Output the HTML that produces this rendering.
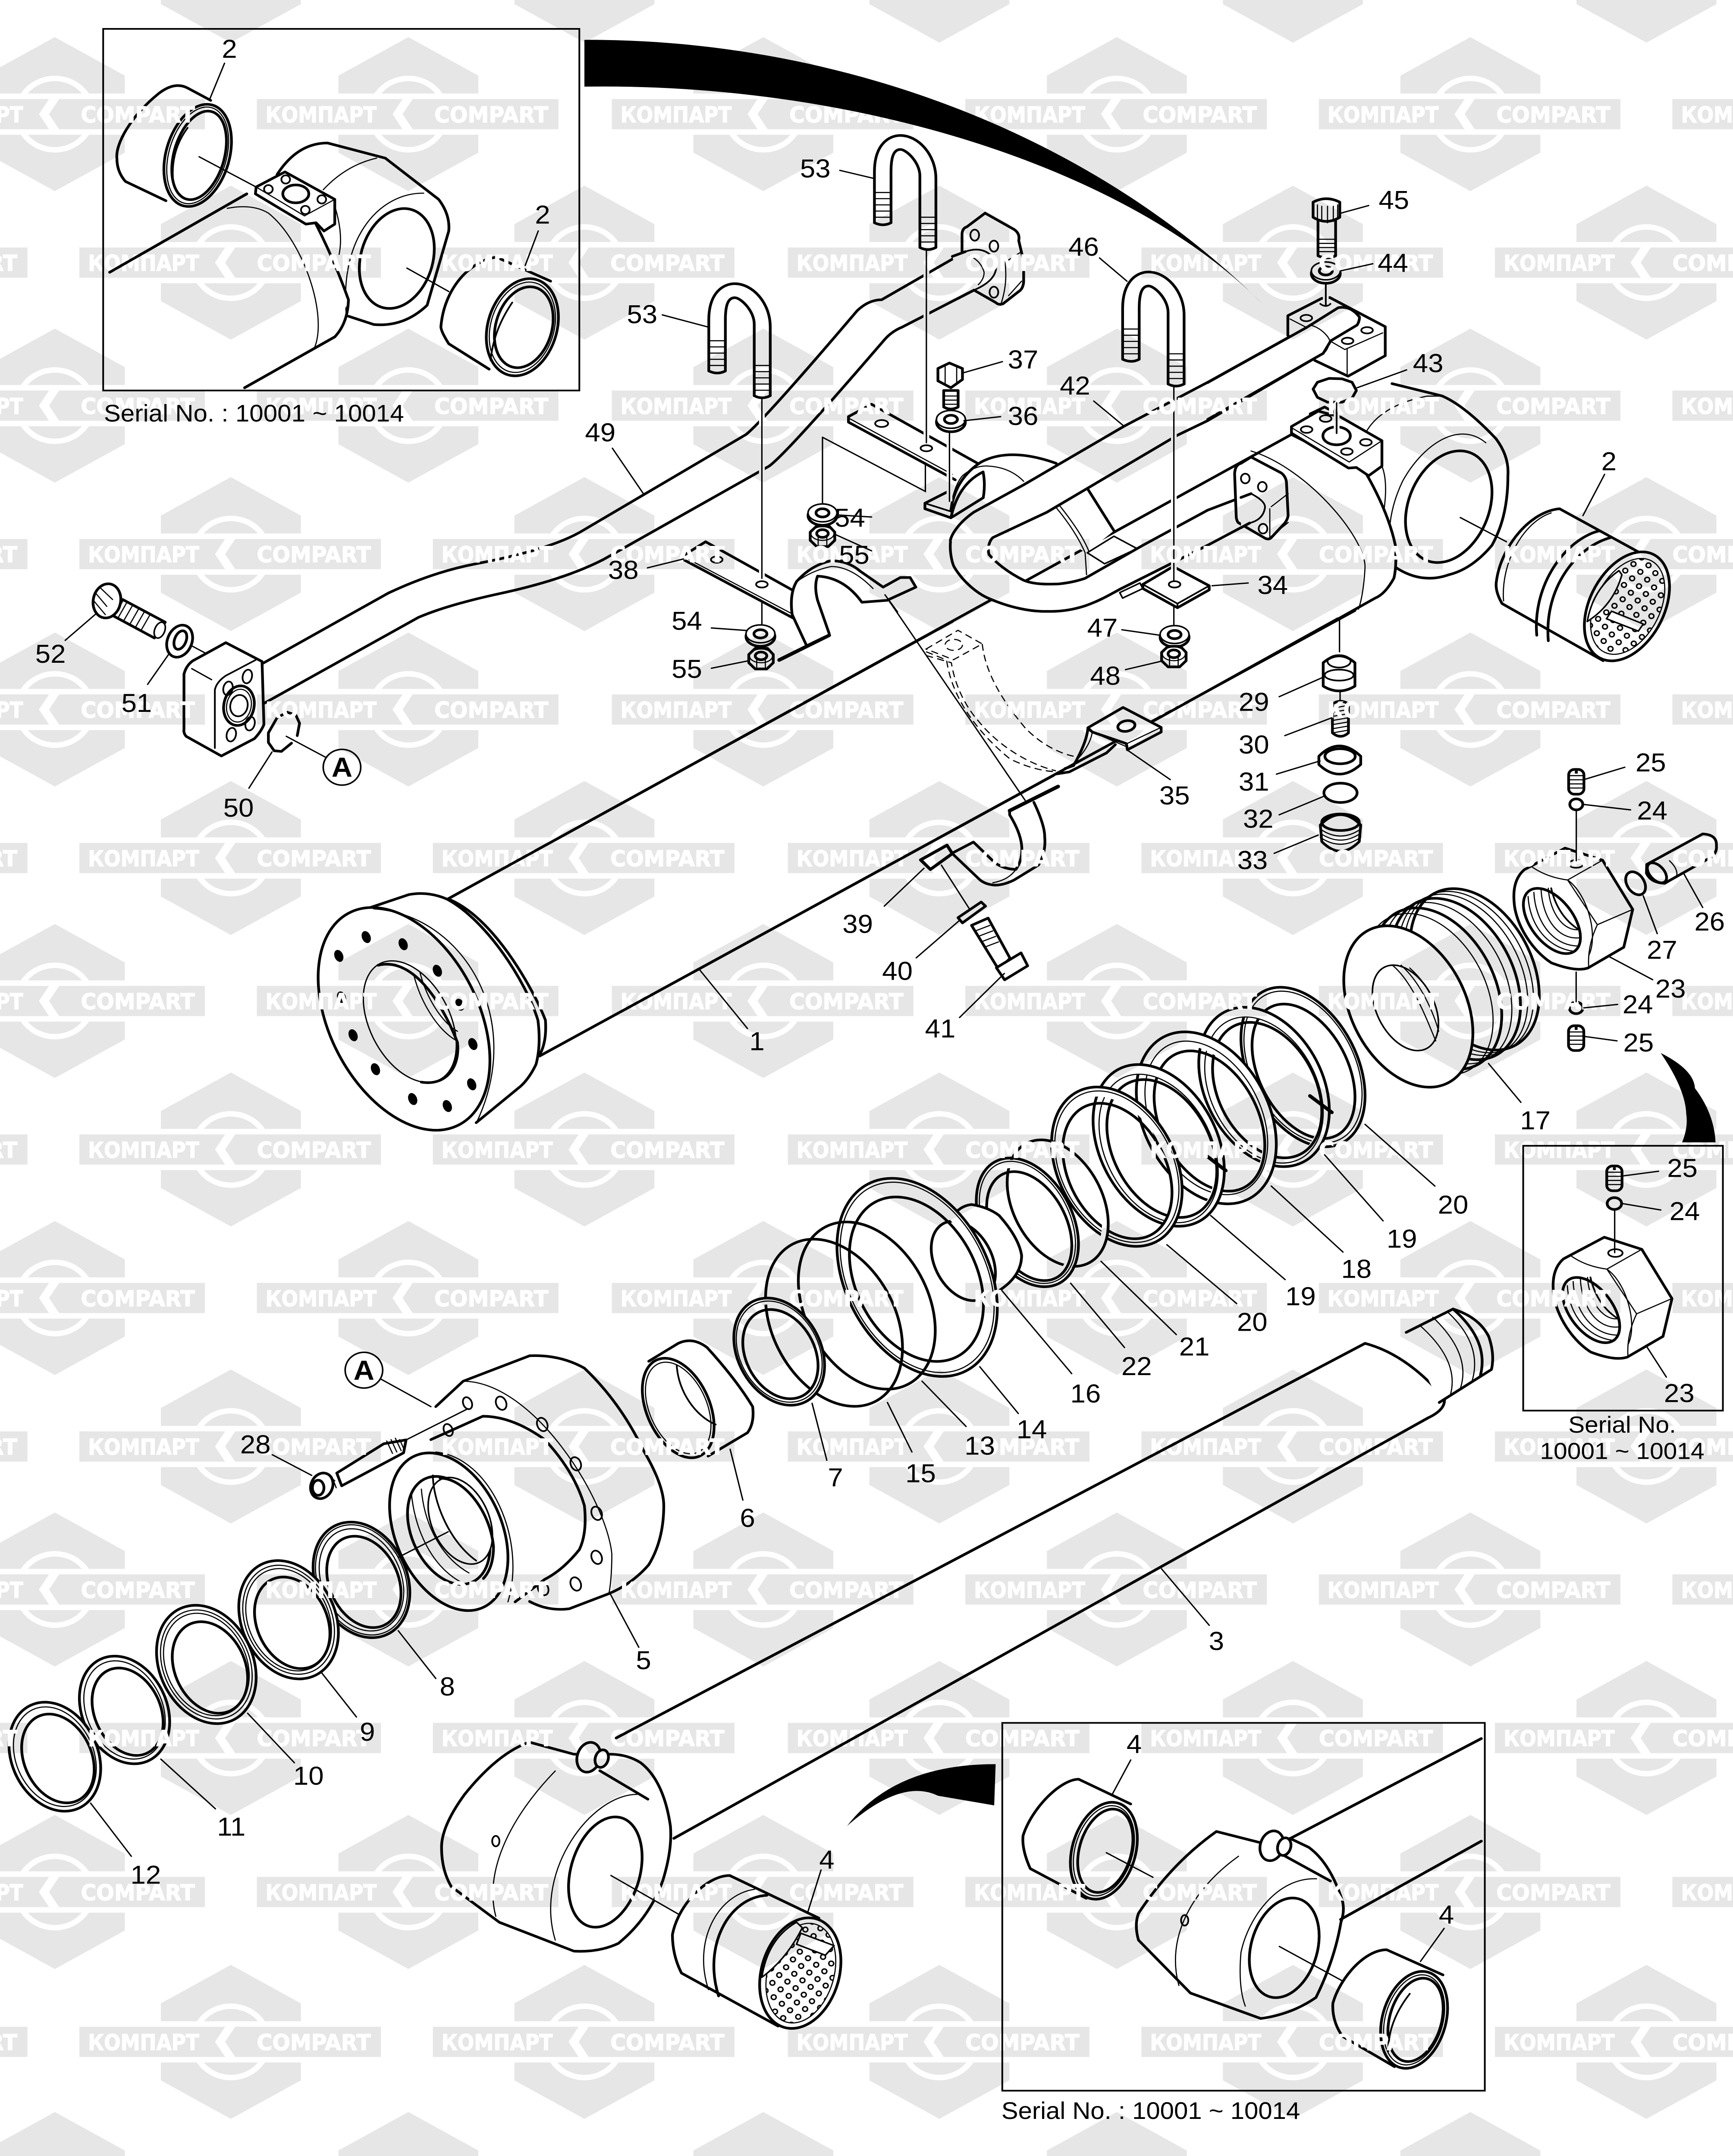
<!DOCTYPE html>
<html><head><meta charset="utf-8"><title>Cylinder parts diagram</title>
<style>
html,body{margin:0;padding:0;background:#fff;width:100%;height:100%;overflow:hidden}
svg{display:block;width:100vw;height:100vh}
.k{fill:#fff;stroke:#000;stroke-width:1.9;stroke-linejoin:round;stroke-linecap:round}
.K{fill:none;stroke:#000;stroke-width:1.9;stroke-linejoin:round;stroke-linecap:round}
.f{fill:#fff;stroke:none}
.m{fill:#fff;stroke:#000;stroke-width:1.1;stroke-linejoin:round}
.M{fill:none;stroke:#000;stroke-width:1.2;stroke-linecap:round}
.n{fill:none;stroke:#000;stroke-width:.8;stroke-linecap:round}
.l{fill:none;stroke:#000;stroke-width:.95;stroke-linecap:round}
.h{fill:none;stroke:#fff;stroke-width:4}
.b{fill:#000;stroke:none}
.d{fill:none;stroke:#000;stroke-width:.8;stroke-dasharray:5 3}
.a{fill:none;stroke:#fff}
.g{fill:#000;fill-opacity:.098;fill-rule:evenodd}
text{font-family:"Liberation Sans",sans-serif;font-size:19px;fill:#000;text-anchor:middle}
.s{font-size:17.4px;text-anchor:start}
.c{font-size:17px}
.wt{font-family:"DejaVu Sans",sans-serif;font-weight:bold;font-size:16px;fill:#fff;stroke:#fff;stroke-width:.5;text-anchor:start}
</style></head><body>
<svg xmlns="http://www.w3.org/2000/svg" viewBox="0 0 1201 1568" preserveAspectRatio="none">
<defs>
<g id="w">
<path class="g" d="M0,-56L48.5,-28V-15H-48.5V-28ZM-23.6,-15A28,28 0 0 1 23.6,-15L18.7,-15A24,24 0 0 0 -18.7,-15Z"/>
<path class="g" d="M0,56L48.5,28V15H-48.5V28ZM-23.6,15A28,28 0 0 0 23.6,15L18.7,15A24,24 0 0 1 -18.7,15Z"/>
<path class="g" d="M-105,-11H-4L-11,0L-4,11H-105ZM3,-11H104V11H3L-4,0Z"/>
<text class="wt" x="-99" y="6" textLength="77" lengthAdjust="spacingAndGlyphs">КОМПАРТ</text>
<text class="wt" x="18" y="6" textLength="79" lengthAdjust="spacingAndGlyphs">COMPART</text>
</g>
<g id="row1"><use href="#w" x="38"/><use href="#w" x="283"/><use href="#w" x="529"/><use href="#w" x="774"/><use href="#w" x="1019"/><use href="#w" x="1264"/></g>
<g id="row2"><use href="#w" x="-85"/><use href="#w" x="160"/><use href="#w" x="405"/><use href="#w" x="651"/><use href="#w" x="896"/><use href="#w" x="1141"/></g>
<pattern id="dots" width="7.4" height="7.4" patternUnits="userSpaceOnUse" patternTransform="rotate(25)">
<rect width="7.4" height="7.4" fill="#fff"/><circle cx="3.7" cy="3.7" r="1.7" fill="#fff" stroke="#000" stroke-width="1"/></pattern>
<g id="ub">
<path class="k" d="M606,162V125C606,105 616,98.5 624,98.5C636,98.5 648.6,112 648.6,130V180Q643,183 637.5,180V128C637.5,118 628,108.7 624,108.7C619,108.7 617.5,115 617.5,125V162Q612,165 606,162Z"/>
<path class="n" d="M606,140H617.5M606,144.5H617.5M606,149H617.5M606,153.5H617.5M606,158H617.5M637.5,158H648.6M637.5,162.5H648.6M637.5,167H648.6M637.5,171.5H648.6M637.5,176H648.6"/>
</g>
<g id="wa"><ellipse class="k" cx="0" cy="2" rx="10" ry="7"/><ellipse class="m" cx="0" cy="0" rx="10" ry="6.5"/><ellipse class="K" cx="0" cy="0" rx="4.5" ry="3"/></g>
<g id="nu"><path class="k" d="M-8.5,-3L-4,-7.5H4.5L8.5,-3V3L4,7.5H-4L-8.5,3Z"/><ellipse class="n" cx="0" cy="-2" rx="8" ry="5"/><ellipse class="K" cx="0" cy="-2" rx="4" ry="2.8"/><path class="n" d="M-3,7V1M3,7V1"/></g>
<g id="nut">
<path class="k" d="M1056.4,632.5L1084.6,616.8L1110.6,625.6L1131.5,661.4L1125.3,688.9L1100.5,704Q1092,707 1075.2,700.3C1060,690 1050,670 1049.3,656Q1048,640 1056.4,632.5Z"/>
<path class="n" d="M1061.7,630.5Q1072,638 1086.4,640L1110.6,625.6M1086.4,640L1107,672.5L1131.5,661.4M1107,672.5Q1100,688 1101,703.5M1086.4,640C1100,650 1108,680 1101,695"/>
<ellipse class="K" cx="1075.5" cy="669.8" rx="15" ry="27" transform="rotate(-35 1075.5 669.8)"/>
<path class="n" d="M1059,652C1060,672 1072,690 1092,692M1063,649C1064,670 1076,688 1094,688M1068,647C1069,668 1080,684 1095,682M1073,646C1074,664 1084,678 1095,676"/>
<path class="M" d="M1075,646C1078,660 1085,670 1094,676"/>
<ellipse cx="1092.3" cy="628.3" rx="5" ry="2.8" class="M"/>
</g>
<g id="ss"><rect x="-5.3" y="-9" width="10.6" height="18" rx="4" class="k"/><path class="n" d="M-5,-4.5H5M-5,-1.5H5M-5,1.5H5M-5,4.5H5"/><rect x="-1" y="-8" width="2" height="2" class="b"/></g>
</defs>

<rect width="1201" height="1568" fill="#fff"/>

<!-- barrel 1 -->
<polygon class="f" points="310,654 895,316 960,400 939,444 374,768"/>
<path class="K" d="M310,654L895,316M374,768L939,444"/>
<!-- front flange -->
<path class="k" d="M312.7,654.7C345,670 372,725 378,742Q379,758 374,767"/>
<path class="k" d="M251,662L283.4,650.6Q297,648 310,654C338,670 365,715 372.8,742Q375,760 371.5,774Q367,784 360.8,790L330,816.5"/>
<ellipse class="k" cx="280" cy="741" rx="52" ry="86" transform="rotate(-25 280 741)"/>
<path class="n" d="M259,661C320,665 365,740 330,817"/>
<ellipse class="m" cx="284" cy="743" rx="28" ry="47" transform="rotate(-25 284 743)" style="stroke-width:.9"/>
<path class="K" d="M262,702C285,696 305,726 317,758C319,775 310,790 292,787"/>
<path class="n" d="M287,710C292,730 304,750 316.7,757M291,707C296,728 308,745 317,750"/>
<g class="b">
<ellipse cx="253.8" cy="681.5" rx="3" ry="4.5" transform="rotate(-20 253.8 681.5)"/><ellipse cx="279.4" cy="686.7" rx="3" ry="4.5" transform="rotate(-20 279.4 686.7)"/><ellipse cx="234.8" cy="695.2" rx="3" ry="4.5" transform="rotate(-20 234.8 695.2)"/><ellipse cx="303.1" cy="706" rx="3" ry="4.5" transform="rotate(-20 303.1 706)"/><ellipse cx="236.7" cy="725.4" rx="3" ry="4.5" transform="rotate(-20 236.7 725.4)"/><ellipse cx="318.6" cy="730.7" rx="3" ry="4.5" transform="rotate(-20 318.6 730.7)"/><ellipse cx="244.7" cy="752.9" rx="3" ry="4.5" transform="rotate(-20 244.7 752.9)"/><ellipse cx="327.7" cy="759.3" rx="3" ry="4.5" transform="rotate(-20 327.7 759.3)"/><ellipse cx="260.2" cy="777.6" rx="3" ry="4.5" transform="rotate(-20 260.2 777.6)"/><ellipse cx="326.9" cy="788.6" rx="3" ry="4.5" transform="rotate(-20 326.9 788.6)"/><ellipse cx="286" cy="799.3" rx="3" ry="4.5" transform="rotate(-20 286 799.3)"/><ellipse cx="310" cy="804.4" rx="3" ry="4.5" transform="rotate(-20 310 804.4)"/>
</g>

<!-- rear eye -->
<path class="k" d="M964.7,279L999.5,288Q1015,295 1036.7,319Q1046,332 1045,346C1045,370 1040,385 1034,396.5Q1020,414 1004,418Q985,425 967,412.5"/>
<path class="n" d="M947.4,313C955,300 970,292 989,288.1L999.5,288M1029.7,322C1010,305 985,325 972,350C962,372 960,395 967,415"/>
<ellipse class="K" cx="1004" cy="368.5" rx="28" ry="42" transform="rotate(20 1004 368.5)"/>
<!-- barrel end -->
<path class="k" d="M895,316L946,343Q962,372 967,396.5Q968,412 966,420.5Q960,432 953,435L927.5,450"/>
<path class="n" d="M867,328C905,340 946,390 946,412.5Q945,432 941.5,443"/>
<path class="k" d="M895,310.2L913.6,299L929,303.3L957.7,320.5V339L948.5,346L940,340L934.5,340.4L895,315Z"/>
<path class="K" d="M908,301L918,296L925,300"/>
<path class="n" d="M895,311L935,336L957,321M957.7,339Q962,350 959,372"/>
<ellipse class="K" cx="926.3" cy="317" rx="9.5" ry="6.5"/>
<g class="M"><ellipse cx="905.5" cy="312.4" rx="4" ry="2.4"/><ellipse cx="918.7" cy="304.4" rx="4" ry="2.4"/><ellipse cx="946.6" cy="321.7" rx="4" ry="2.4"/><ellipse cx="933.4" cy="328.4" rx="4" ry="2.4"/></g>
<path class="h" d="M926.3,293V315"/><path class="M" d="M926.3,293V315"/>

<!-- bushing 2 -->
<path class="k" d="M1080.8,370L1150.4,410L1111,480.5L1041,439Q1036,430 1037,423C1040,398 1060,372 1080.8,370Z"/>
<path class="K" d="M1108.6,386C1085,392 1062,425 1065,462M1116,391C1092,398 1070,428 1073,466"/>
<path class="n" d="M1075,373C1055,380 1040,410 1042,437"/>
<ellipse class="k" cx="1127.5" cy="441" rx="26" ry="42" transform="rotate(25 1127.5 441)"/>
<ellipse cx="1128" cy="441" rx="22.5" ry="37" transform="rotate(25 1128 441)" fill="url(#dots)" stroke="#000" stroke-width=".8"/>
<path d="M1122,415Q1104,428 1100,452Q1118,440 1124,418Z" class="m"/>
<polygon class="m" points="1116.8,444.5 1138.8,453.8 1135.4,459 1113.3,450"/>

<!-- tube 49 -->
<polygon class="f" points="182,482 269,431 330,410 402,387 517,316 594,226 611,218 669,183 675,211 625,238 613,247 533,339 418,407 345,432 290,449 183,511"/>
<path class="K" d="M182.4,482.3L269,431.4Q300,416 330,410Q380,400 402,387L517,316Q530,305 594,226Q602,218 611,218L669,183M675,211L625,238Q618,241 613,247Q545,330 533,339L418,407Q390,422 345,432Q310,440 290,449L183.2,511.4"/>
<!-- flange top -->
<path class="k" d="M666.7,183V170Q667,166 670,165L682.7,155L703,167Q707,170 706,175L709.4,190V205Q709,210 706,212L695,221Q692,222 690,220L675,211"/>
<path class="n" d="M696,191L708,183M699,215L708,204.5M696,188Q699,205 693.4,222"/>
<path class="f" d="M660,186L669,183Q683,178 690,190Q693,203 675,211L665,214Z"/>
<path class="K" d="M660,186.5L669,183M675,211L664,217"/>
<path class="M" d="M669,183Q683,178 690,190Q693,203 675,211"/>
<path class="n" d="M672,186Q680,190 682,198Q682,203 678,207"/>
<g class="M"><ellipse cx="675.5" cy="171" rx="3" ry="4"/><ellipse cx="688.8" cy="179" rx="3" ry="4"/><ellipse cx="688.8" cy="212.5" rx="3" ry="4"/></g>
<!-- flange left -->
<path class="k" d="M127.5,490.3Q129,484 133.6,480.6L156.5,467.4L181.6,481.1L182.9,526.9Q181,532 176.3,537.2L153.4,549.8L129,535.5Q127,533 127.5,530.3Z"/>
<path class="M" d="M148.9,544V501.7Q150,496 156.5,491.4L177.1,480"/>
<path class="l" d="M132.9,486.3L146.6,494.3M132.9,469.7L142,474.8"/>
<ellipse class="K" cx="165.6" cy="513.2" rx="10.5" ry="14.5" transform="rotate(10 165.6 513.2)"/>
<ellipse class="n" cx="165.6" cy="513.2" rx="8.5" ry="12" transform="rotate(10 165.6 513.2)"/>
<ellipse class="M" cx="165.6" cy="513.2" rx="6" ry="7.8" transform="rotate(10 165.6 513.2)"/>
<g class="M"><ellipse cx="171.4" cy="492" rx="3.2" ry="5" transform="rotate(12 171.4 492)"/><ellipse cx="158" cy="500.6" rx="3.2" ry="5" transform="rotate(12 158 500.6)"/><ellipse cx="173.3" cy="526.3" rx="3.2" ry="5" transform="rotate(12 173.3 526.3)"/><ellipse cx="160.3" cy="534.3" rx="3.2" ry="5" transform="rotate(12 160.3 534.3)"/></g>
<!-- bolt 52 -->
<path class="k" d="M85,436L114.5,452.5L107,464L78.7,448Z"/>
<ellipse class="m" cx="110.7" cy="458.3" rx="3.5" ry="6" transform="rotate(20 110.7 458.3)"/>
<path class="n" d="M88,438L82,449M92,440L86,451M96,443L90,454M100,445L94,456M104,447L98,458"/>
<ellipse class="k" cx="74.1" cy="437" rx="9.5" ry="12.5" transform="rotate(10 74.1 437)"/>
<path class="n" d="M66,431L74,441M65,437L73,447M70,428L78,436"/>
<ellipse class="k" cx="124.5" cy="466.3" rx="8.5" ry="12" transform="rotate(20 124.5 466.3)"/>
<ellipse class="K" cx="125" cy="465.5" rx="4" ry="7" transform="rotate(20 125 465.5)"/>
<path class="K" d="M206,535L207.6,526L205,520L199,518L192,522L186,533L186,540L190,546L195,546.5L202,540.5"/>
<circle class="m" cx="237" cy="558" r="13"/>

<!-- clamp dashed -->
<path class="d" d="M641.8,472L663.9,458.4L680.7,468.3L660.8,479.8ZM680.7,468.3C683,490 695,510 710.4,529.3C722,542 735,548 744,550M641.8,476.7L659.3,482C662,500 670,515 678.4,524.8C690,540 710,555 731.8,560.6M641.8,474L656,480C660,510 680,535 700,552C712,558 722,561 735,561.5"/>
<ellipse class="d" cx="661" cy="469" rx="6" ry="4"/>
<path class="K" d="M753.9,530Q753,540 744,556.8L738,559"/>
<path class="k" d="M753.9,529.3L778.3,514.5L804.7,529V532.4L781.3,545.3L780.6,540.8L757,532.4Z"/>
<path class="n" d="M753.9,531L780.6,543M780.6,541L804.7,529"/>
<ellipse class="K" cx="780.6" cy="528" rx="6" ry="3.8" transform="rotate(-12 780.6 528)"/>
<path class="K" d="M773,541.5L766.8,547.6L741,561.4L731.8,562.9"/>
<path class="n" d="M757,532.4Q755,545 741,558"/>
<!-- clamp 39 -->
<path class="K" d="M699.7,589.6L733.3,572" style="stroke-width:2.6"/>
<path class="K" d="M716.5,583.5Q724,600 724,608.6Q725,620 719.6,629.2L702.8,640Q695,644 689,643.7Q682,643 678.4,639.2L660,620.8"/>
<path class="K" d="M699.7,589.6V592.6Q707,605 708,614.7Q709,625 704,632.3Q695,632 689,627L674.6,612.4L659.3,620.8"/>
<path class="n" d="M704,632.3Q699,640 688,642"/>
<polygon class="k" points="638,625.4 656.3,614.7 660,620.8 644.8,632.3" style="stroke-width:2.2"/>
<polygon class="k" points="663.9,667.4 680,656 683,659 667,671.2"/>
<!-- bolt 41 -->
<path class="k" d="M673.3,673L684.8,667.7L700,697L692,705Z"/>
<path class="n" d="M676,677L686,673M678,681L688,677M680,685L690,681M682,689L692,685"/>
<path class="k" d="M690.5,703.8L707.6,693L712.2,702.4L696.2,712.6Z"/>
<path class="l" d="M613.3,432.6L710.4,582"/>

<!-- upper clamp and plate -->
<path class="k" d="M681,339L604,294L588,303V307L662,349"/>
<path class="n" d="M588,304L660,345"/>
<ellipse class="M" cx="611" cy="308" rx="4.5" ry="2.5"/>
<ellipse class="M" cx="642" cy="326" rx="4" ry="2.2"/>
<path class="l" d="M570,318V367M570,318L641.3,357.4V336.6"/>
<path class="f" d="M659,376Q662,348 680,336Q700,325 732,337L752,352.6L772,386L753,402L688,365L659,376Z"/>
<path class="K" d="M659,371Q662,348 680,336Q700,325 732,337"/>
<path class="K" d="M659,376.6Q664,352 681.3,343.2Q683,352 681.4,362L659,376.6L641,370V366L656,358"/>
<path class="M" d="M641,366L659,372"/>
<path class="n" d="M659,367Q662,352 667,346Q676,338 685.4,339Q700,340 709.4,350M729.4,366Q745,385 752,402L753,418M733,366Q750,388 755,402"/>
<path class="K" d="M752,352.6L772,386"/>
<polygon class="m" points="753.5,402 772,390 788,399 765.5,410"/>

<!-- U tube 42 -->
<path class="k" d="M905.6,238L837,278L779,310L709.4,352.6L674.7,372.6C662,382 658,392 658.7,394C658,402 660,410 661.4,412.6C668,424 678,432 685.4,435.3C700,442 715,445 725.4,444.6C736,445 745,443 752,440.6C762,437 770,432 776,428.6L837,396.5L866,380.4L867,359L837,371L792,396.6L752,420.6C745,423 740,424 733.4,424.7C725,425 716,425 709.4,422C698,416 690,409 685.4,403.3C684,398 686,393 688,391L725.4,372.6L816,316.5L837,305.9L917,257Z"/>
<!-- flange 34 side -->
<path class="k" d="M855.6,344.4Q856,338 860,337L867,332.4L888,344Q891.6,347 891.6,352L892.7,375Q892,379 889,382L881,391Q879,393 876,391L858,380Q856.7,378 856.7,375Z"/>
<path class="n" d="M881,368.5L892.7,359M881,390L892.7,380M880,370V392"/>
<path class="f" d="M860,362L867,359Q878,365 876.5,370Q875,378 866,380.4L860,384Z"/>
<path class="K" d="M860,361.8L867,359M866,380.4L860,383.8"/>
<path class="M" d="M867,359Q878,365 876.5,370Q875,378 866,380.4"/>
<g class="M"><ellipse cx="863" cy="348" rx="3" ry="3.5"/><ellipse cx="874.8" cy="354" rx="3" ry="3.5"/><ellipse cx="875.3" cy="384.5" rx="3" ry="3.5"/></g>

<!-- block 42 end -->
<path class="k" d="M892.5,229.6L916,217L921.6,216.4L960,237.6V258.7L934.2,273.6L911.3,262.2L892.5,243.9Z"/>
<path class="n" d="M894,232L907,239M921.6,247.9L932,254.2L958.2,242.1M933.6,254.2V272.4"/>
<path class="k" d="M837,278.2L905.6,238.1L927.4,223.8Q936,222 942.2,230.7Q942,234 940.5,236.4L922.2,247.9L921,250L917,257L837,305"/>
<path class="n" d="M907.9,236.4C916,238 924,248 921,250Q920,255 917,257"/>
<g class="M"><ellipse cx="905.3" cy="231.3" rx="4" ry="2.3"/><ellipse cx="947.4" cy="240.2" rx="4" ry="2.3"/><ellipse cx="933.9" cy="247.9" rx="4" ry="2.3"/></g>
<path class="M" d="M915,221Q919,224 922,221"/>
<path class="h" d="M918.8,204.4V221.6"/><path class="M" d="M918.8,204.4V221.6"/>

<!-- plate lower 38 -->
<path class="k" d="M550.6,430L489,394L473.7,404V407L550.6,450"/>
<path class="n" d="M474,405L550,447"/>
<ellipse class="M" cx="496.7" cy="407" rx="4" ry="2.3"/>
<ellipse class="M" cx="528" cy="425" rx="4" ry="2.3"/>
<path class="K" d="M540,480L574.6,462" style="stroke-width:2.6"/>
<path class="k" d="M558.6,468.7L549,447Q547,432 552,423Q562,411 576,407.8Q588,408 596,415.3L612,427L624,420L630.7,420L634.7,427L614.7,436.6L597.3,438Q585,420 566.6,419Q564,426 566.6,436.6L574.6,460.7"/>
<path class="n" d="M551,424Q562,415 576,412Q590,412 605,428"/>
<path class="l" d="M613.3,432.6L622,445"/>

<!-- plate 34 -->
<polygon class="m" points="776,431 790,424 792,428 778,435"/>
<path class="k" d="M792,425L813,412L838,426V429L816,442L792,428Z"/>
<path class="M" d="M792,425L816,439L838,426M816,439V442"/>
<ellipse class="M" cx="814" cy="425" rx="4" ry="2.3"/>

<!-- long vertical leaders with halos -->
<path class="h" d="M642,182V322M528,290V420.6M813.5,280.5V422M658,310V364.6"/>
<path class="l" d="M642,182V322M528,290V420.6M528,438V455M813.5,280.5V422M813.5,440.7V456.7M658,310V364.6"/>

<use href="#ub"/>
<use href="#ub" x="-114.8" y="107.8"/>
<use href="#ub" x="172" y="99.3"/>

<!-- bolts 37, 45 -->
<path class="k" d="M654,284V296Q659,299 664,296V284Z"/>
<path class="n" d="M654,288H664M654,291H664M654,294H664"/>
<path class="k" d="M650,268L658,264L667,268V276L659,282L650,277Z"/>
<path class="n" d="M655,265V279M663,266V279"/>
<use href="#wa" x="659" y="305"/>
<path class="k" d="M913.4,160V186Q919.5,189 925.6,186V160Z"/>
<path class="n" d="M913.4,174H925.6M913.4,177H925.6M913.4,180H925.6M913.4,183H925.6"/>
<path class="k" d="M910,147Q919,142 928.5,147V158Q919,164 910,158Z"/>
<path class="n" d="M913,149V160M916,150V161M920,150V162M924,150V161M927,149V159"/>
<use href="#wa" x="918.8" y="197"/>
<polygon class="K" points="910,283 913,278 921,275.2 930,275.5 937,278 940,284 937,289.5 930,292.5 920,292.5 913,289"/>
<use href="#wa" x="570" y="373"/><use href="#nu" x="570" y="390"/>
<use href="#wa" x="527" y="461"/><use href="#nu" x="527.4" y="479"/>
<use href="#wa" x="814" y="461.5"/><use href="#nu" x="813.5" y="477.5"/>

<!-- parts 29-33 -->
<path class="k" d="M917,482Q928,472 939,482V499Q928,506 917,499Z"/>
<ellipse class="M" cx="928" cy="481" rx="8" ry="4.5"/>
<ellipse class="M" cx="928" cy="491" rx="10" ry="4"/>
<path class="k" d="M923.4,512Q929,508 934.5,512V533Q929,538 923.4,533Z"/>
<path class="n" d="M923.5,515L934.5,513M923.5,518L934.5,516M923.5,521L934.5,519M923.5,524L934.5,522M923.5,527L934.5,525M923.5,530L934.5,528M923.5,533L934.5,531"/>
<path class="k" d="M914,550Q928,535 943,550V556Q928,570 914,556Z"/>
<ellipse class="K" cx="928.7" cy="550" rx="10.5" ry="5.5"/>
<ellipse class="K" cx="929" cy="576.6" rx="11.5" ry="7"/>
<path class="k" d="M915,600Q929,585 943,600L942,612Q929,626 916,612Z"/>
<path class="n" d="M915,603Q929,613 943,603M915,606Q929,616 943,606M915,609Q929,619 943,609"/>
<ellipse class="K" cx="929" cy="598" rx="13" ry="6"/>

<!-- parts 24-27, nut -->
<use href="#ss" x="1092.4" y="568.6"/>
<ellipse class="K" cx="1092.4" cy="585" rx="4.5" ry="4"/>
<use href="#nut"/>
<ellipse class="K" cx="1092.3" cy="733" rx="4.7" ry="4.2"/>
<use href="#ss" x="1092.3" y="755"/>
<ellipse class="K" cx="1133.5" cy="642.4" rx="6" ry="9" transform="rotate(-30 1133.5 642.4)"/>
<path class="k" d="M1141.2,628.7L1180,606.5Q1190,607 1189.5,615Q1190,620 1186,623.3L1153.6,642.4Q1144,642 1141,635Z"/>
<ellipse class="K" cx="1148.3" cy="634.8" rx="5" ry="8.5" transform="rotate(-40 1148.3 634.8)"/>
<path class="n" d="M1157,626Q1163,632 1162,637"/>

<!-- piston 17 -->
<ellipse class="k" cx="1022" cy="705" rx="40" ry="62" transform="rotate(-25 1022 705)"/>
<ellipse class="n" cx="1018" cy="707" rx="40" ry="62" transform="rotate(-25 1018 707)"/>
<ellipse class="n" cx="1014" cy="709" rx="40" ry="62" transform="rotate(-25 1014 709)"/>
<ellipse class="K" cx="1009" cy="712" rx="40" ry="62" transform="rotate(-25 1009 712)"/>
<ellipse class="n" cx="1003" cy="715" rx="40" ry="62" transform="rotate(-25 1003 715)"/>
<ellipse class="K" cx="996" cy="719" rx="40" ry="62" transform="rotate(-25 996 719)"/>
<ellipse class="n" cx="990" cy="723" rx="40" ry="62" transform="rotate(-25 990 723)"/>
<ellipse class="k" cx="976" cy="732" rx="40" ry="62" transform="rotate(-25 976 732)"/>
<ellipse class="m" cx="974" cy="733" rx="20" ry="33" transform="rotate(-25 974 733)"/>
<path class="n" d="M965,702C980,715 990,745 995,757M971,702C985,715 994,738 997,750M977,704C990,716 996,732 997,742"/>

<!-- rings 20..7 -->
<g transform="translate(903 776) rotate(-25)"><ellipse class="a" rx="34" ry="56" stroke-width="6"/><ellipse class="K" rx="37.8" ry="61.5"/><ellipse class="n" rx="36" ry="58.5"/><ellipse class="K" cx="-1" cy="3" rx="31" ry="52"/></g>
<g transform="translate(876 790.5) rotate(-25)"><ellipse class="a" rx="37" ry="57" stroke-width="6"/><ellipse class="K" rx="41" ry="61"/><ellipse class="n" cx="-1" cy="2" rx="37" ry="56"/><ellipse class="K" cx="1" cy="3" rx="34" ry="52"/></g>
<path d="M907.8,797L923,809" class="K" style="stroke-width:2.5"/>
<g transform="translate(836 813) rotate(-25)"><ellipse class="a" rx="39" ry="60" stroke-width="9"/><ellipse class="K" rx="43.8" ry="65.9"/><ellipse class="n" rx="38" ry="59"/><ellipse class="K" cx="1" cy="3" rx="34" ry="54"/></g>
<g transform="translate(803 833) rotate(-25)"><ellipse class="a" rx="37" ry="58" stroke-width="6"/><ellipse class="K" rx="41" ry="62"/><ellipse class="n" cx="-1" cy="2" rx="37" ry="57"/><ellipse class="K" cx="1" cy="3" rx="34" ry="53"/></g>
<path d="M835.4,840L849.5,851.3" class="K" style="stroke-width:2.5"/>
<g transform="translate(774 848.5) rotate(-25)"><ellipse class="a" rx="37" ry="57" stroke-width="6"/><ellipse class="K" rx="41" ry="61"/><ellipse class="n" rx="39" ry="58"/><ellipse class="K" cx="-1" cy="3" rx="34" ry="52"/></g>
<g transform="translate(733 875) rotate(-25)"><ellipse class="a" rx="29" ry="46" stroke-width="4"/><ellipse class="K" rx="31.3" ry="48.6"/></g>
<g transform="translate(712 889) rotate(-25)"><ellipse class="a" rx="28" ry="45" stroke-width="6"/><ellipse class="K" rx="31.5" ry="49.5"/><ellipse class="n" rx="29.5" ry="47"/><ellipse class="K" cx="0" cy="3" rx="26" ry="42"/></g>
<!-- 16 -->
<path class="k" d="M660,885Q665,877 673.3,876Q685,878 692.4,884Q706,900 708,913Q708,928 692.4,938.6"/>
<ellipse class="k" cx="667.6" cy="917" rx="20" ry="30.5" transform="rotate(-25 667.6 917)"/>
<!-- 14 -->
<g transform="translate(635.6 929) rotate(-25)"><ellipse class="a" rx="46" ry="69" stroke-width="7"/><ellipse class="K" rx="50" ry="76"/><ellipse class="n" rx="48" ry="73"/><ellipse class="K" cx="-1" cy="1" rx="42" ry="63"/></g>
<ellipse class="K" cx="600.7" cy="949.5" rx="43" ry="64" transform="rotate(-25 600.7 949.5)"/>
<ellipse class="K" cx="578" cy="962" rx="43" ry="64" transform="rotate(-25 578 962)"/>
<g transform="translate(540 983) rotate(-25)"><ellipse class="a" rx="27" ry="38" stroke-width="4"/><ellipse class="K" rx="29" ry="40.8"/><ellipse class="n" rx="27.5" ry="38.5"/><ellipse class="K" cx="0" cy="2" rx="24" ry="34"/></g>

<!-- bushing 6 -->
<path class="k" d="M449.6,990L470,977Q480,972 490,980Q510,1003 521.6,1023Q523,1035 518,1042L490.7,1059"/>
<ellipse class="k" cx="470" cy="1024" rx="22" ry="38" transform="rotate(-22 470 1024)"/>
<ellipse class="n" cx="470" cy="1024" rx="20" ry="35" transform="rotate(-22 470 1024)"/>
<path class="M" d="M469,993C470,1012 482,1030 496,1036"/>

<!-- head 5 -->
<path class="k" d="M302,1023L321,1004.5L367,986Q388,985 405,995Q430,1020 446,1055Q460,1080 460,1095Q460,1120 449.6,1138Q438,1152 422,1159L394.6,1170Q380,1172 367,1164.7"/>
<path class="n" d="M321,1004.5C370,1005 420,1090 424,1130Q424,1148 422,1159"/>
<path class="k" d="M298.6,1047L334.6,1030Q355,1030 377.5,1047Q398,1070 405,1095Q407,1115 401.5,1127Q390,1142 377.5,1148.6L357,1165"/>
<g class="M"><ellipse cx="347.3" cy="1020.5" rx="3.5" ry="5" transform="rotate(-20 347.3 1020.5)"/><ellipse cx="375.8" cy="1036" rx="3.5" ry="5" transform="rotate(-20 375.8 1036)"/><ellipse cx="399" cy="1064.6" rx="3.5" ry="5" transform="rotate(-20 399 1064.6)"/><ellipse cx="413.5" cy="1100.6" rx="3.5" ry="5" transform="rotate(-20 413.5 1100.6)"/><ellipse cx="413.5" cy="1132.6" rx="3.5" ry="5" transform="rotate(-20 413.5 1132.6)"/><ellipse cx="399" cy="1152" rx="3.5" ry="5" transform="rotate(-20 399 1152)"/><ellipse cx="376.4" cy="1155.3" rx="3.5" ry="5" transform="rotate(-20 376.4 1155.3)"/><ellipse cx="324" cy="1020.5" rx="3" ry="4.5" transform="rotate(-20 324 1020.5)"/><ellipse cx="310.6" cy="1040" rx="3" ry="4.5" transform="rotate(-20 310.6 1040)"/></g>
<ellipse class="k" cx="311" cy="1114" rx="37" ry="60" transform="rotate(-22 311 1114)"/>
<path class="n" d="M302,1056C340,1060 365,1120 352,1165"/>
<ellipse class="K" cx="311" cy="1113" rx="26" ry="41" transform="rotate(-22 311 1113)"/>
<ellipse class="m" cx="319" cy="1106" rx="20" ry="33" transform="rotate(-22 319 1106)"/>
<path class="K" d="M305,1075C322,1075 340,1100 342,1125Q342,1140 335,1148"/>
<path class="n" d="M285,1085C287,1110 298,1140 322,1152M292,1083C294,1108 305,1132 325,1144"/>
<path class="M" d="M300,1073C300,1090 310,1120 330,1135"/>
<!-- bolt 28 -->
<path class="k" d="M233.4,1071.3L266,1050L281.4,1047.2L279.7,1056.6L236.8,1080.6Z"/>
<path class="n" d="M268,1048L272,1057M271,1047L275,1056M274,1046L278,1055M277,1047L280,1054"/>
<ellipse class="k" cx="223" cy="1080.6" rx="7.5" ry="9.5" transform="rotate(20 223 1080.6)"/>
<ellipse class="K" cx="220.5" cy="1082" rx="4" ry="5.5"/>
<path class="n" d="M227,1072L232,1077M230,1074L233,1082"/>
<circle class="m" cx="252.2" cy="996.5" r="13"/>

<!-- seal rings 8-12 -->
<g transform="translate(250.5 1149) rotate(-22)"><ellipse class="a" rx="28" ry="39" stroke-width="7"/><ellipse class="K" rx="31.6" ry="43.5"/><ellipse class="n" rx="30" ry="41.5"/><ellipse class="n" rx="27.5" ry="38.5"/><ellipse class="K" cx="1" cy="2" rx="24" ry="34.5"/></g>
<g transform="translate(200 1178) rotate(-22)"><ellipse class="a" rx="28.5" ry="39.5" stroke-width="7"/><ellipse class="K" rx="32.6" ry="44.5"/><ellipse class="n" rx="30" ry="41"/><ellipse class="n" rx="28" ry="38.5"/><ellipse class="K" cx="1.5" cy="3" rx="24.5" ry="34.5"/></g>
<g transform="translate(143 1210.5) rotate(-22)"><ellipse class="a" rx="28.5" ry="39.5" stroke-width="7"/><ellipse class="K" rx="32.6" ry="44.5"/><ellipse class="n" rx="30" ry="41"/><ellipse class="n" rx="28" ry="38.5"/><ellipse class="K" cx="1.5" cy="3" rx="24.5" ry="34.5"/></g>
<g transform="translate(86.3 1243.6) rotate(-22)"><ellipse class="a" rx="26" ry="36" stroke-width="6"/><ellipse class="K" rx="29.5" ry="40.5"/><ellipse class="n" rx="26.5" ry="37"/><ellipse class="K" cx="1.5" cy="2" rx="23" ry="33"/></g>
<g transform="translate(38 1277.6) rotate(-22)"><ellipse class="a" rx="26" ry="37" stroke-width="6"/><ellipse class="K" rx="30" ry="41"/><ellipse class="n" rx="27" ry="37.5"/><ellipse class="K" cx="1.5" cy="2" rx="23.5" ry="33.5"/></g>

<!-- rod 3 -->
<path class="k" d="M427,1264L946,977Q975,985 1001,1017Q1002,1025 990,1031L467,1337"/>
<path class="k" d="M974.5,969L1007,952Q1025,958 1031.7,972Q1036,985 1033.6,996L997.4,1020"/>
<path class="n" d="M984,964Q1012,990 1005,1015M993,958Q1020,985 1012,1010M1003,954Q1028,978 1020,1005"/>
<path class="K" d="M1007,952Q1032,975 1026,1000"/>
<!-- rod eye -->
<path class="k" d="M397.7,1275.8L366.8,1267Q345,1275 322,1305Q306,1328 306,1343.5Q306,1360 312.7,1372L346,1398L397.7,1419Q415,1420 428.5,1413.4Q450,1395 459.4,1367.5Q466,1345 464.6,1328Q460,1295 444,1282Q435,1276 423.4,1275.8Z"/>
<path class="n" d="M384.8,1288C355,1320 335,1360 343.6,1393.7M441.4,1305C410,1305 370,1360 384.8,1411"/>
<path class="K" d="M415.7,1287.8L449,1308.5"/>
<ellipse class="K" cx="419.5" cy="1361.5" rx="24" ry="41" transform="rotate(15 419.5 1361.5)"/>
<ellipse class="M" cx="343.6" cy="1339" rx="2.5" ry="3.8"/>
<ellipse class="k" cx="408" cy="1278" rx="8" ry="11" transform="rotate(15 408 1278)"/>
<ellipse class="k" cx="417" cy="1279" rx="4.5" ry="6.5" transform="rotate(15 417 1279)"/>

<!-- bushing 4 -->
<path class="k" d="M505.7,1364L567.5,1395L539.2,1473.5L472.3,1435Q466,1422 466,1407C470,1385 490,1364 505.7,1364Z"/>
<path class="K" d="M531.5,1378.4C505,1380 487,1415 498,1451.6"/>
<path class="n" d="M523,1374C497,1378 480,1412 491,1447"/>
<ellipse class="k" cx="554.6" cy="1435" rx="27" ry="41" transform="rotate(15 554.6 1435)"/>
<ellipse cx="555" cy="1435" rx="23" ry="37" transform="rotate(15 555 1435)" fill="url(#dots)" stroke="#000" stroke-width=".8"/>
<path d="M552,1398Q532,1410 528,1438Q545,1425 556,1402Z" class="m"/>
<polygon class="m" points="555,1406 578,1415 572,1422 552,1414"/>

<!-- inset top left -->
<path class="k" d="M192,127Q206,104 227,104L267,115L304,145Q312,156 311,168L296,222Q280,238 259,236L241.5,230"/>
<path class="n" d="M224,138Q240,120 261,115M293.6,140.5C265,140 235,170 240,229"/>
<ellipse class="K" cx="275" cy="188" rx="25" ry="37" transform="rotate(15 275 188)"/>
<polygon class="f" points="76,198 171,141 208,157 230,185 241.5,218 232,245 169.5,282"/>
<path class="K" d="M76,198L171,141M169.5,282L232,245Q241,235 241.5,218Q232,190 219,163"/>
<path class="n" d="M157.5,151.5Q175,148 186,155C210,175 228,230 217.5,254"/>
<path class="k" d="M177.5,136L197.5,125L232,145V163L224.5,168L219,162L212,163L177,141Z"/>
<polygon class="n" points="177.5,136 197.5,125 232,145 211,157"/>
<path class="n" d="M232,150Q238,170 235,185"/>
<ellipse class="K" cx="205" cy="141" rx="9" ry="6.5"/>
<g class="M"><circle cx="198" cy="130.5" r="3"/><circle cx="186" cy="137.6" r="3"/><circle cx="223" cy="145" r="3"/><circle cx="211.6" cy="152.7" r="3"/></g>
<path class="k" d="M146,73L130,64Q121,59 110,68C90,85 80,105 81,115Q81,125 87,132L115,146"/>
<ellipse class="k" cx="137" cy="113" rx="22" ry="38" transform="rotate(15 137 113)"/>
<ellipse class="n" cx="137" cy="113" rx="20" ry="36" transform="rotate(15 137 113)"/>
<ellipse class="K" cx="138" cy="113" rx="17.5" ry="33" transform="rotate(15 138 113)"/>
<path class="M" d="M130,93Q118,110 120,132"/>
<path class="k" d="M381.6,204.5L344,187C325,190 308,210 305.6,237Q305,240 311,250L339,268.5"/>
<ellipse class="k" cx="362" cy="238" rx="24" ry="36" transform="rotate(15 362 238)"/>
<ellipse class="n" cx="362" cy="238" rx="22" ry="33.5" transform="rotate(15 362 238)"/>
<ellipse class="K" cx="363" cy="238" rx="19.5" ry="30" transform="rotate(15 363 238)"/>
<path class="M" d="M355,220Q342,240 340,262"/>

<!-- inset bottom -->
<path class="K" d="M1026.6,1264.4L894.3,1337M1026.6,1339L929,1396"/>
<path class="k" d="M843,1332Q812,1355 789,1391.5Q786,1400 789,1411L825,1449.5L873.7,1468Q895,1465 912,1452.7Q925,1425 929.3,1398Q932,1390 930.4,1382.8Q922,1355 907,1343.5L894,1337"/>
<path class="K" d="M843,1332L873,1340M889,1349L922,1368"/>
<path class="n" d="M858.3,1350C825,1375 808,1410 817,1444M912.4,1366.4C885,1365 865,1395 860,1420Q858,1445 863,1459"/>
<ellipse class="K" cx="890" cy="1416.6" rx="23" ry="37" transform="rotate(15 890 1416.6)"/>
<ellipse class="M" cx="821" cy="1396.6" rx="2.5" ry="3.8"/>
<ellipse class="k" cx="881.4" cy="1342.4" rx="8" ry="11" transform="rotate(15 881.4 1342.4)"/>
<ellipse class="k" cx="890" cy="1343" rx="4.5" ry="6.5" transform="rotate(15 890 1343)"/>
<path class="k" d="M783.6,1312L747.6,1294C735,1294 715,1315 709,1335Q708,1345 714,1359L752.8,1380.6"/>
<ellipse class="k" cx="765" cy="1346" rx="22" ry="36" transform="rotate(15 765 1346)"/>
<ellipse class="n" cx="765" cy="1346" rx="20" ry="33.5" transform="rotate(15 765 1346)"/>
<ellipse class="K" cx="766" cy="1346" rx="18" ry="31" transform="rotate(15 766 1346)"/>
<path class="k" d="M1000,1436.3L961,1418C945,1418 928,1440 923.7,1457Q923,1470 930.4,1481L966.4,1503"/>
<ellipse class="k" cx="980" cy="1469" rx="22" ry="36" transform="rotate(15 980 1469)"/>
<ellipse class="n" cx="980" cy="1469" rx="20" ry="33.5" transform="rotate(15 980 1469)"/>
<ellipse class="K" cx="981" cy="1469" rx="18" ry="31" transform="rotate(15 981 1469)"/>
<path class="M" d="M977,1450Q962,1470 962,1492"/>

<!-- inset right -->
<use href="#ss" x="1118.8" y="857"/>
<ellipse class="K" cx="1118.8" cy="875.3" rx="5" ry="4.3"/>
<use href="#nut" x="27.2" y="283"/>

<!-- watermark overlay: translucent grey over the line work -->
<path class="g" d="M111.5,0H208.5V3L160,31L111.5,3ZM356.5,0H453.5V3L405,31L356.5,3ZM602.5,0H699.5V3L651,31L602.5,3ZM847.5,0H944.5V3L896,31L847.5,3ZM1092.5,0H1189.5V3L1141,31L1092.5,3Z"/>
<use href="#row1" y="83"/><use href="#row2" y="191"/><use href="#row1" y="295"/><use href="#row2" y="403"/><use href="#row1" y="516"/><use href="#row2" y="624"/><use href="#row1" y="728"/><use href="#row2" y="836"/><use href="#row1" y="944"/><use href="#row2" y="1052"/><use href="#row1" y="1156"/><use href="#row2" y="1264"/><use href="#row1" y="1376"/><use href="#row2" y="1485"/>
<path class="g" d="M38,1536L86.5,1564V1568H0V1558ZM283,1536L331.5,1564V1568H234.5V1564ZM529,1536L577.5,1564V1568H480.5V1564ZM774,1536L822.5,1564V1568H725.5V1564ZM1019,1536L1067.5,1564V1568H970.5V1564Z"/>

<!-- re-inked work above the watermark letters -->
<path class="b" d="M405,29C570,28 750,90 875.9,222C785,125 600,60 405,63Z"/>
<path class="b" d="M690,1283Q620,1283 587,1328Q625,1293 650,1306L689,1313Z"/>
<path class="b" d="M1150.9,765.8Q1174,778 1174.6,791.4Q1188,810 1188.9,830.8H1165.7Q1170,820 1168.6,810.2Q1168,792 1150.9,765.8Z"/>
<rect x="71.5" y="21" width="330" height="263" fill="none" stroke="#000" stroke-width="1.2"/>
<rect x="694.6" y="1253" width="334.4" height="267.5" fill="none" stroke="#000" stroke-width="1.2"/>
<rect x="1055.6" y="833.3" width="138.4" height="192.6" fill="none" stroke="#000" stroke-width="1.2"/>
<path class="K" d="M427,1264L946,977M467,1337L990,1031M310,654L660,452M374,768L730,564M800,524L927,450M76,198L171,141M169.5,282L232,245M1026.6,1264.4L894.3,1337M1026.6,1339L929,1396"/>

<!-- leaders -->
<path class="l" d="M485,705.5L518,748M1012,376.4L1044,394M652.4,629.2L671.5,660.5M640.3,631.5L612.8,659M664.7,669.6L635,696.6M696,708L665,740M264,1003L298.6,1023M281.4,1047.2L324.3,1024.5M423.4,1364L471,1392.6M805,1141L838,1182M569,1360L560,1390"/>
<path class="l" d="M928.3,450V474M928.7,502V509M1092.3,707V728.5M1092.4,589V626M1119,880.5V911M926.3,293V315"/>
<path class="l" d="M138,114L177.5,136M282,195L311,212M155.6,46L145.4,72M373,168L364,193M766.7,1347.4L799,1365.3M783.6,1280L770.8,1305M886.6,1415.6L930.4,1440.7M1000.8,1402.5L984.4,1426.5"/>
<path class="l" d="M582,123.9L605.3,129.7M459,229L490.6,237.8M762,187.6L781,204.5M694.7,263L668,271M693.4,303L668,306M948.5,149.5L928.5,155.2M951.4,191.8L929,197M940.5,282L974.8,269M758,291.7L779,310"/>
<path class="l" d="M424.4,326L446.5,360M448.7,413L473.7,406.5M580,374.5L604,376M578.6,388.6L604,400.6M493,456.7L517,458.5M493,486L518,480.7M777.5,458L804,462M780,487L805.5,480.7M840,426L865,424M1112,345L1097,375"/>
<path class="l" d="M886.5,506.7L917,492.5M890.4,535L923,522M884.6,563L914.8,553.4M886.5,592.6L917,579.3M883,620.6L913.6,607.3M1097.6,567L1126,558M1097,585L1130,589M1167,635.5L1180,660M1138.8,651.5L1148.5,679M1115.3,695.8L1145.3,712.5M1097.6,733L1121,730.5M1097.6,753.7L1120.6,757M1031.6,773.5L1054,801.7"/>
<path class="l" d="M946,817.7L994.4,862.6M918,839.9L958.5,887.9M881,862.6L930.7,910.6M839,884L890.6,930.6M808.7,905.3L857,948M763,917.3L815.2,970.6M742,933.3L779.3,980M694.3,938.6L742.7,999M679,994L705.7,1028M639,1004.5L669.5,1037.4M615,1020L632,1056M562.8,1020.6L573,1062M506,1054L514.8,1091M422.8,1159L442.7,1198M276,1186L302,1220.7M223,1216.7L247,1248.7M171.6,1246L204,1282M111.5,1279.4L149.3,1315.5M62.8,1311.4L91,1350M276,1132.6L310.6,1114M188.7,1058L216,1073"/>
<path class="l" d="M67.3,445.7L45.2,465.7M116.8,476L102.3,497.7M188.5,546.9L172.5,573.2M198.4,535.5L225.9,550.9M781,545.3L811,567M1124.2,855.3L1149.4,851.8M1124.2,875.3L1151,880M1141,979L1154.8,1001.5"/>

<!-- labels -->
<text x="159" y="42">2</text><text x="376" y="162.6">2</text>
<text class="s" x="72" y="306.5" textLength="208">Serial No. : 10001 ~ 10014</text>
<text x="565" y="129">53</text><text x="445" y="235">53</text><text x="751" y="186">46</text>
<text x="709" y="268">37</text><text x="709" y="309">36</text><text x="745" y="287">42</text>
<text x="989.7" y="270.7">43</text><text x="965.3" y="197.8">44</text><text x="966" y="152">45</text>
<text x="416" y="321">49</text><text x="432" y="421">38</text><text x="589" y="383">54</text><text x="592" y="410">55</text>
<text x="476" y="458">54</text><text x="476" y="493">55</text><text x="764" y="463">47</text><text x="766" y="498">48</text>
<text x="882" y="432">34</text><text x="814" y="585">35</text><text x="1115" y="342">2</text>
<text x="869" y="517">29</text><text x="869" y="548">30</text><text x="869" y="575">31</text><text x="872" y="602">32</text><text x="868" y="632">33</text>
<text x="1144" y="561">25</text><text x="1145" y="596">24</text><text x="1184.8" y="676.7">26</text><text x="1151.8" y="697.3">27</text><text x="1157.7" y="725.5">23</text><text x="1135" y="737">24</text><text x="1135.5" y="764.7">25</text>
<text x="1064" y="821.3">17</text><text x="1007" y="882.6">20</text><text x="971.5" y="907.4">19</text><text x="940" y="929.3">18</text><text x="901.3" y="949.3">19</text><text x="867.8" y="968">20</text><text x="827.7" y="985.8">21</text><text x="787.7" y="1000">22</text><text x="752.3" y="1020">16</text><text x="715" y="1046">14</text><text x="679" y="1058">13</text><text x="638" y="1078">15</text><text x="579" y="1081">7</text><text x="518" y="1110.5">6</text><text x="446" y="1214">5</text>
<text x="310" y="1233">8</text><text x="254.6" y="1266">9</text><text x="213.8" y="1298">10</text><text x="160.3" y="1335">11</text><text x="101" y="1370">12</text>
<text x="843" y="1200">3</text><text x="573" y="1359">4</text><text x="177" y="1057">28</text>
<text x="594.4" y="678.4">39</text><text x="621.9" y="712.6">40</text><text x="651.6" y="754.5">41</text><text x="524.6" y="763.8">1</text>
<text x="165.3" y="594">50</text><text x="94.7" y="517.7">51</text><text x="35" y="482">52</text>
<text x="1165.9" y="856">25</text><text x="1167.5" y="887.4">24</text><text x="1163.7" y="1019.6">23</text>
<text class="c" x="1124.2" y="1042">Serial No.</text><text class="c" x="1124.2" y="1061">10001 ~ 10014</text>
<text x="786" y="1275">4</text><text x="1002.4" y="1399">4</text>
<text class="s" x="694" y="1541" textLength="207">Serial No. : 10001 ~ 10014</text>
<text x="237" y="565" style="font-weight:bold;font-size:20px">A</text><text x="252.2" y="1003.5" style="font-weight:bold;font-size:20px">A</text>
</svg>
</body></html>
